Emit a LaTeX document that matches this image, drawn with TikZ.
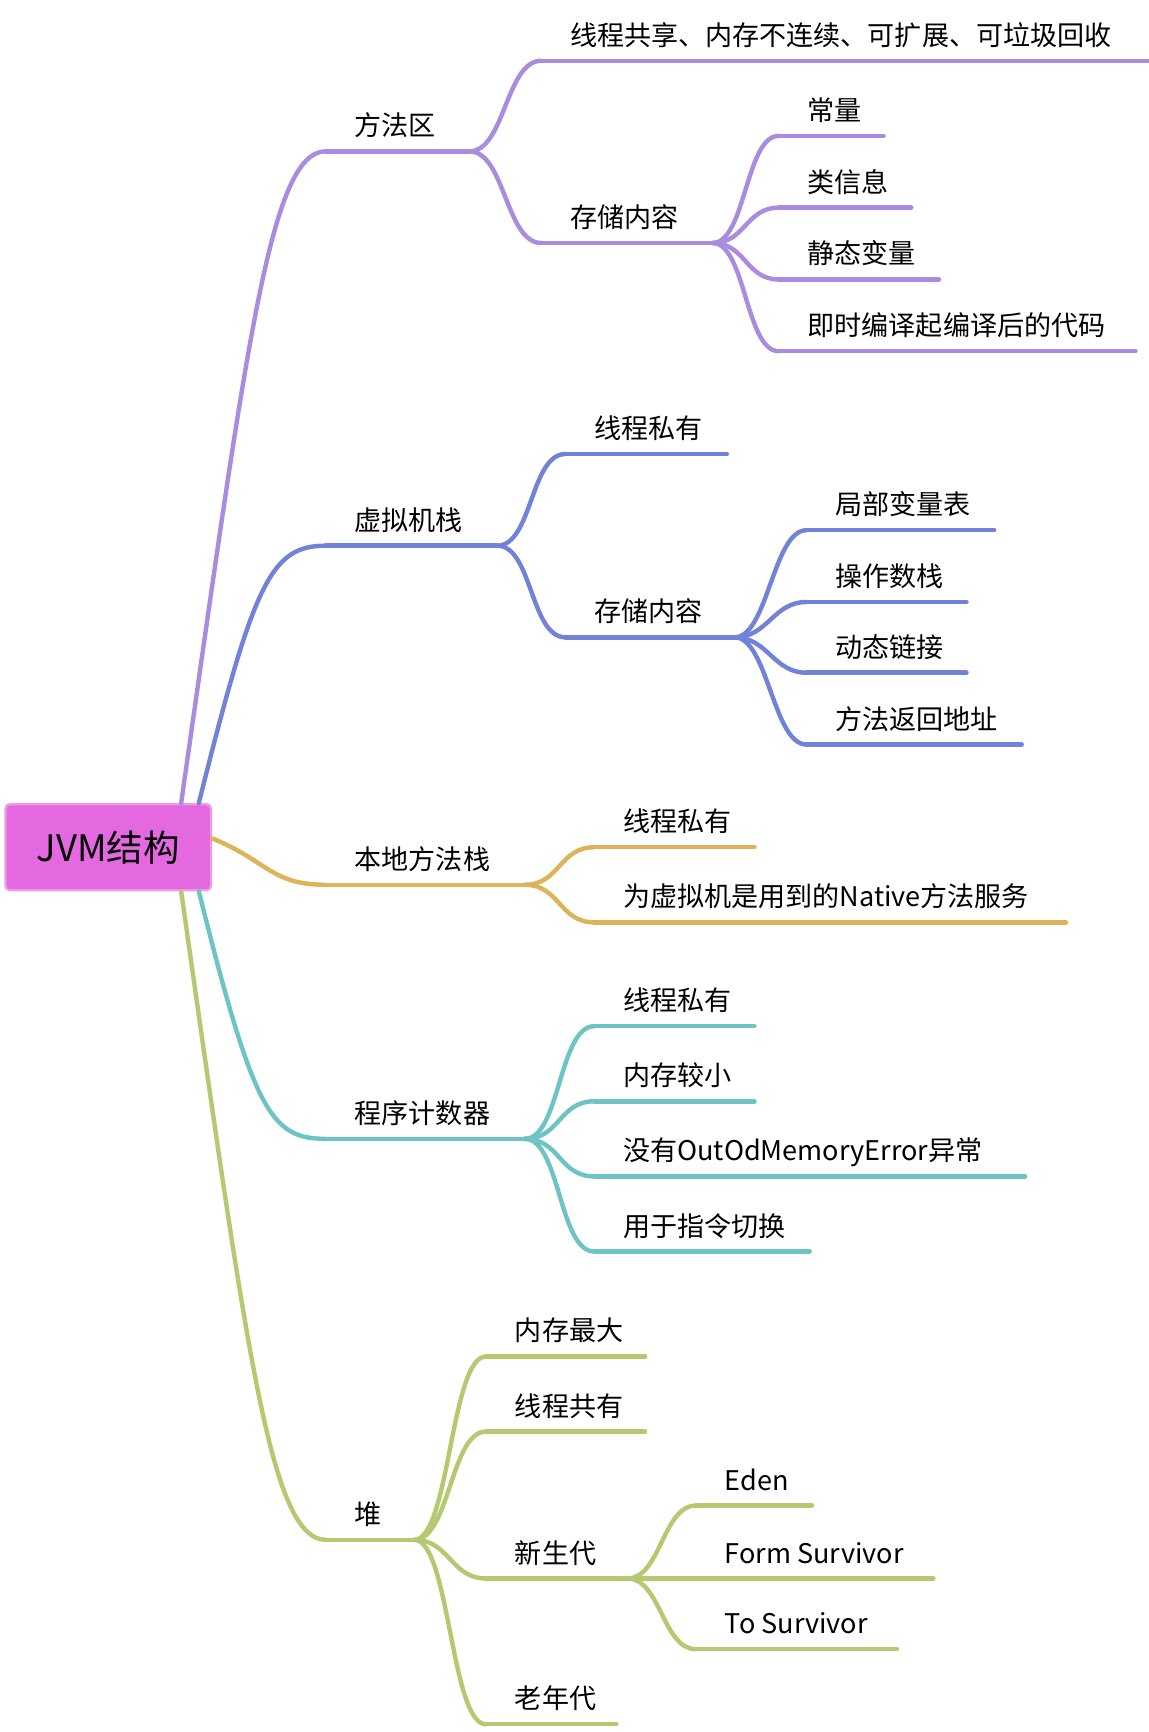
\documentclass[tikz,border=0pt]{standalone}
\usepackage{fontspec}
\setmainfont{Noto Sans CJK SC}
\usetikzlibrary{calc,positioning}

\definecolor{cfang}{HTML}{A98BE0}
\definecolor{cxu}{HTML}{7282D8}
\definecolor{cben}{HTML}{DDB458}
\definecolor{ccheng}{HTML}{6EC4C4}
\definecolor{cdui}{HTML}{B4C970}
\definecolor{croot}{HTML}{E468E0}
\definecolor{crootb}{HTML}{EE9AE8}

\tikzset{
	branch/.style={line width=4pt, line cap=round},
	label/.style={anchor=base west, inner sep=0pt, font=\fontsize{24.5}{28}\selectfont},
}
% \leaf{name}{x start}{x end}{y}{colour}{text}
\newcommand{\leaf}[6]{%
	\coordinate (#1-s) at (#2,#4);
	\coordinate (#1-e) at (#3,#4);
	\draw[branch,#5] (#1-s) -- (#1-e);
	\node[label] (#1) at ($(#1-s)+(26,-14)$) {#6};
}
% \link{from}{to}{colour}{bend}
\newcommand{\link}[4]{%
	\draw[branch,#3] (#1) .. controls +(#4,0) and +(-#4,0) .. (#2);
}

\begin{document}
\begin{tikzpicture}[x=1pt,y=-1pt]
	\useasboundingbox (0,0) rectangle (1040,1568);
	\node[draw=crootb,fill=croot,line width=2pt,rounded corners=4pt,minimum width=186pt,minimum height=78pt,
		font=\fontsize{33}{36}\selectfont] (root) at (98,767) {JVM结构};

	% 方法区
	\leaf{fa}{295}{425}{137}{cfang}{方法区}
	\leaf{fa1}{490}{1040}{55}{cfang}{线程共享、内存不连续、可扩展、可垃圾回收}
	\leaf{fa2}{490}{645}{220}{cfang}{存储内容}
	\leaf{fa21}{705}{800}{123}{cfang}{常量}
	\leaf{fa22}{705}{825}{188}{cfang}{类信息}
	\leaf{fa23}{705}{850}{253}{cfang}{静态变量}
	\leaf{fa24}{705}{1028}{318}{cfang}{即时编译起编译后的代码}
	\link{fa-e}{fa1-s}{cfang}{32}
	\link{fa-e}{fa2-s}{cfang}{32}
	\foreach \i in {1,...,4}{\link{fa2-e}{fa2\i-s}{cfang}{30}}

	% 虚拟机栈
	\leaf{xu}{295}{450}{494}{cxu}{虚拟机栈}
	\leaf{xu1}{512}{658}{411}{cxu}{线程私有}
	\leaf{xu2}{512}{665}{577}{cxu}{存储内容}
	\leaf{xu21}{730}{900}{480}{cxu}{局部变量表}
	\leaf{xu22}{730}{875}{545}{cxu}{操作数栈}
	\leaf{xu23}{730}{875}{609}{cxu}{动态链接}
	\leaf{xu24}{730}{925}{674}{cxu}{方法返回地址}
	\link{xu-e}{xu1-s}{cxu}{32}
	\link{xu-e}{xu2-s}{cxu}{32}
	\foreach \i in {1,...,4}{\link{xu2-e}{xu2\i-s}{cxu}{30}}

	% 本地方法栈
	\leaf{ben}{295}{475}{801}{cben}{本地方法栈}
	\leaf{ben1}{538}{683}{767}{cben}{线程私有}
	\leaf{ben2}{538}{965}{835}{cben}{为虚拟机是用到的Native方法服务}
	\link{ben-e}{ben1-s}{cben}{32}
	\link{ben-e}{ben2-s}{cben}{32}

	% 程序计数器
	\leaf{ch}{295}{475}{1031}{ccheng}{程序计数器}
	\leaf{ch1}{538}{683}{929}{ccheng}{线程私有}
	\leaf{ch2}{538}{683}{997}{ccheng}{内存较小}
	\leaf{ch3}{538}{928}{1065}{ccheng}{没有OutOdMemoryError异常}
	\leaf{ch4}{538}{733}{1133}{ccheng}{用于指令切换}
	\foreach \i in {1,...,4}{\link{ch-e}{ch\i-s}{ccheng}{32}}

	% 堆
	\leaf{dui}{295}{375}{1394}{cdui}{堆}
	\leaf{dui1}{440}{584}{1228}{cdui}{内存最大}
	\leaf{dui2}{440}{584}{1296}{cdui}{线程共有}
	\leaf{dui3}{440}{568}{1429}{cdui}{新生代}
	\leaf{dui4}{440}{558}{1561}{cdui}{老年代}
	\leaf{dui31}{630}{735}{1363}{cdui}{Eden}
	\leaf{dui32}{630}{845}{1429}{cdui}{Form Survivor}
	\leaf{dui33}{630}{812}{1493}{cdui}{To Survivor}
	\foreach \i in {1,...,4}{\link{dui-e}{dui\i-s}{cdui}{32}}
	\foreach \i in {1,2,3}{\link{dui3-e}{dui3\i-s}{cdui}{30}}

	% root branches
	\draw[branch,cfang] ([xshift=-28pt]root.north east) .. controls +(60,-420) and +(-50,0) .. (fa-s);
	\draw[branch,cxu] ([xshift=-12pt]root.north east) .. controls +(50,-200) and +(-50,0) .. (xu-s);
	\draw[branch,cben] ([yshift=8pt]root.east) .. controls +(50,20) and +(-50,0) .. (ben-s);
	\draw[branch,ccheng] ([xshift=-12pt]root.south east) .. controls +(50,200) and +(-50,0) .. (ch-s);
	\draw[branch,cdui] ([xshift=-28pt]root.south east) .. controls +(60,420) and +(-50,0) .. (dui-s);
\end{tikzpicture}
\end{document}
